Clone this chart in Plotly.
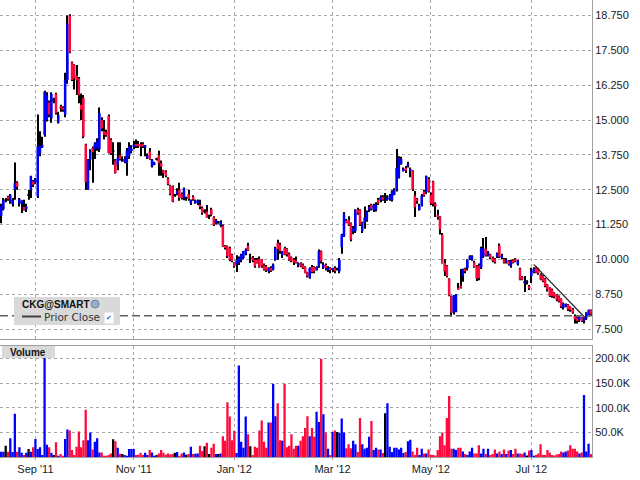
import pandas as pd
import plotly.graph_objects as go

# Daily bars for CKG@SMART (one value per trading day)
opens = [
    11.55, 11.8, 12.12, 12.25, 12.08, 11.98, 12.5, 12.76, 12.0, 12.0,
    11.88, 11.8, 12.3, 12.5, 12.8, 12.76, 12.26, 13.8, 14.02, 14.47,
    15.0, 15.63, 15.07, 15.72, 15.94, 14.9, 15.5, 15.45, 15.19, 16.44,
    18.75, 17.07, 16.98, 16.6, 16.5, 15.55, 15.8, 14.12, 12.5, 13.58,
    14.0, 13.95, 14.0, 13.95, 15.0, 14.6, 14.55, 15.15, 14.3, 13.9,
    13.55, 13.4, 13.74, 13.58, 13.5, 13.45, 13.7, 13.92, 14.05, 14.14,
    14.15, 14.12, 14.15, 14.02, 13.66, 13.87, 13.34, 13.42, 13.6, 13.73,
    13.45, 13.2, 13.15, 12.9, 12.65, 12.62, 12.3, 12.38, 12.5, 12.35,
    12.2, 12.2, 12.35, 12.0, 12.25, 12.05, 12.02, 11.96, 11.85, 11.75,
    11.72, 11.55, 11.8, 11.52, 11.3, 11.33, 11.21, 11.21, 10.49, 10.47,
    10.41, 10.17, 9.87, 9.81, 9.87, 9.97, 10.05, 10.2, 10.49, 10.05,
    10.08, 9.99, 9.99, 10.02, 9.99, 9.78, 9.75, 9.57, 9.69, 9.63,
    9.99, 10.59, 10.53, 10.15, 10.41, 10.37, 10.2, 10.08, 9.99, 9.96,
    9.78, 9.87, 9.81, 9.73, 9.54, 9.33, 9.73, 9.73, 9.63, 9.75,
    10.29, 9.7, 9.81, 9.63, 9.69, 9.63, 9.69, 9.65, 9.57, 10.44,
    10.83, 11.4, 11.42, 11.3, 11.0, 11.01, 11.78, 11.78, 11.01, 11.3,
    11.4, 11.78, 11.96, 11.76, 11.78, 12.14, 12.12, 12.24, 12.17, 12.14,
    12.17, 12.12, 12.32, 12.48, 12.92, 13.43, 13.2, 13.29, 13.36, 13.19,
    13.19, 12.29, 12.17, 11.78, 11.93, 12.44, 12.4, 12.88, 12.32, 12.8,
    12.0, 11.6, 11.52, 10.89, 9.87, 9.78, 9.3, 8.68, 8.08, 8.14,
    8.98, 9.06, 9.39, 9.66, 9.69, 10.02, 9.99, 9.9, 9.75, 9.78,
    9.7, 10.09, 10.38, 10.14, 10.18, 10.06, 10.02, 10.09, 10.5, 10.06,
    10.0, 9.9, 9.94, 9.76, 9.97, 10.02, 9.82, 9.66, 9.37, 9.14,
    9.18, 9.04, 9.4, 9.54, 9.73, 9.66, 9.46, 9.42, 9.3, 9.1,
    8.98, 8.92, 8.8, 8.74, 8.68, 8.59, 8.26, 8.3, 8.38, 8.3,
    8.23, 7.97, 7.9, 7.82, 7.9, 7.79, 7.87, 7.97, 8.18,
]
highs = [
    12.0, 12.2, 12.2, 12.28, 12.35, 12.2, 13.48, 12.8, 12.2, 12.12,
    12.14, 12.0, 12.5, 13.0, 12.85, 12.92, 15.2, 14.6, 14.4, 16.05,
    16.0, 15.7, 16.0, 15.8, 15.98, 15.3, 15.55, 15.5, 16.7, 18.75,
    18.8, 17.1, 17.0, 16.98, 16.55, 15.95, 15.9, 14.15, 13.6, 13.95,
    14.05, 14.2, 14.35, 15.45, 15.1, 15.0, 14.65, 15.2, 14.35, 14.2,
    13.6, 14.2, 14.2, 13.7, 13.7, 14.0, 14.2, 14.1, 14.25, 14.3,
    14.25, 14.2, 14.2, 14.1, 13.8, 14.0, 13.6, 13.5, 13.65, 13.9,
    13.55, 13.22, 13.2, 12.95, 12.68, 12.65, 12.35, 12.55, 12.75, 12.4,
    12.58, 12.25, 12.5, 12.15, 12.3, 12.15, 12.15, 12.14, 11.9, 11.8,
    11.95, 11.6, 11.85, 11.55, 11.45, 11.38, 11.4, 11.25, 10.52, 10.5,
    10.45, 10.2, 9.9, 10.15, 10.1, 10.2, 10.3, 10.4, 10.6, 10.2,
    10.12, 10.05, 10.05, 10.1, 10.0, 9.85, 9.8, 9.72, 9.75, 9.85,
    10.45, 10.7, 10.6, 10.3, 10.45, 10.4, 10.25, 10.1, 10.05, 10.1,
    9.9, 9.9, 9.85, 9.75, 9.56, 9.72, 9.8, 9.75, 9.75, 10.35,
    10.32, 9.9, 9.85, 9.75, 9.72, 9.7, 9.75, 9.7, 10.05, 10.92,
    11.7, 11.45, 11.55, 11.32, 11.2, 11.8, 11.85, 11.8, 11.35, 11.9,
    11.75, 11.95, 12.0, 12.0, 12.05, 12.2, 12.3, 12.3, 12.38, 12.3,
    12.35, 12.48, 12.55, 13.96, 13.7, 13.68, 13.3, 13.35, 13.5, 13.3,
    13.2, 12.45, 12.2, 12.0, 12.35, 12.5, 13.0, 12.95, 12.4, 12.82,
    12.05, 11.78, 11.55, 10.95, 10.0, 9.8, 9.32, 8.7, 8.72, 8.76,
    9.15, 9.65, 9.66, 9.7, 10.0, 10.15, 10.15, 9.95, 9.8, 9.85,
    10.45, 10.77, 10.8, 10.3, 10.2, 10.1, 10.05, 10.25, 10.57, 10.2,
    10.05, 10.05, 9.98, 9.98, 10.0, 10.05, 9.98, 9.7, 9.4, 9.4,
    9.25, 9.08, 9.7, 9.72, 9.76, 9.7, 9.5, 9.45, 9.33, 9.12,
    9.0, 8.95, 8.82, 8.76, 8.7, 8.6, 8.45, 8.42, 8.4, 8.32,
    8.25, 8.02, 7.95, 7.96, 7.92, 7.92, 8.1, 8.2, 8.2,
]
lows = [
    11.3, 11.75, 12.05, 12.1, 12.0, 11.9, 12.14, 12.5, 11.9, 11.66,
    11.75, 11.7, 12.14, 12.2, 12.6, 12.7, 12.2, 13.7, 14.0, 14.4,
    14.95, 15.1, 14.9, 15.6, 15.2, 14.88, 15.3, 15.3, 15.1, 16.3,
    17.4, 16.4, 16.1, 15.9, 15.6, 15.0, 14.35, 12.5, 12.5, 13.2,
    12.75, 13.6, 13.9, 13.85, 14.6, 14.3, 14.4, 13.8, 13.75, 13.4,
    13.08, 13.2, 13.55, 13.5, 13.45, 13.0, 13.6, 13.8, 13.95, 14.0,
    14.0, 13.7, 14.0, 13.7, 13.6, 13.58, 13.3, 13.38, 13.55, 13.0,
    13.0, 12.92, 12.95, 12.66, 12.3, 12.05, 12.25, 12.3, 12.1, 12.15,
    12.12, 12.1, 12.1, 11.95, 12.1, 12.0, 11.95, 11.8, 11.6, 11.65,
    11.5, 11.45, 11.55, 11.2, 11.25, 11.28, 11.15, 10.45, 10.35, 10.05,
    9.93, 9.9, 9.7, 9.55, 9.8, 9.9, 10.0, 10.15, 10.3, 9.87,
    9.9, 9.7, 9.85, 9.7, 9.7, 9.6, 9.55, 9.5, 9.55, 9.6,
    9.95, 9.99, 10.2, 10.05, 10.15, 10.1, 9.95, 9.9, 9.8, 9.85,
    9.72, 9.72, 9.65, 9.5, 9.35, 9.3, 9.5, 9.5, 9.6, 9.7,
    9.85, 9.65, 9.6, 9.55, 9.5, 9.55, 9.5, 9.6, 9.5, 10.2,
    10.8, 11.3, 11.2, 10.65, 10.9, 10.95, 11.6, 11.2, 10.95, 11.1,
    11.35, 11.7, 11.75, 11.7, 11.72, 11.95, 12.05, 12.1, 12.02, 12.1,
    12.1, 12.08, 12.3, 12.44, 12.9, 13.4, 13.15, 13.1, 13.3, 12.95,
    12.45, 11.52, 12.0, 11.75, 11.9, 12.25, 12.35, 12.4, 11.95, 11.9,
    11.52, 11.42, 10.89, 9.85, 9.4, 9.35, 8.68, 7.95, 8.02, 8.1,
    8.9, 8.95, 9.2, 9.5, 9.6, 9.98, 9.95, 9.7, 9.22, 9.25,
    9.65, 10.05, 10.1, 10.1, 10.0, 9.9, 9.85, 10.05, 10.05, 10.0,
    9.85, 9.85, 9.78, 9.7, 9.85, 9.9, 9.78, 9.25, 9.25, 8.83,
    9.1, 8.9, 9.15, 9.5, 9.5, 9.45, 9.25, 9.18, 9.0, 8.85,
    8.65, 8.62, 8.6, 8.5, 8.45, 8.25, 8.2, 8.28, 8.15, 8.12,
    8.05, 7.7, 7.7, 7.75, 7.75, 7.7, 7.82, 7.95, 8.0,
]
closes = [
    11.9, 12.14, 12.12, 12.16, 12.32, 12.12, 12.74, 12.6, 12.17, 12.1,
    11.78, 11.9, 12.3, 12.98, 12.68, 12.88, 14.05, 14.08, 14.1, 16.02,
    15.9, 15.2, 15.94, 15.72, 15.25, 15.17, 15.42, 15.38, 16.44, 18.47,
    17.43, 16.44, 16.5, 16.44, 15.9, 15.37, 14.4, 12.77, 13.58, 13.88,
    13.85, 14.17, 14.25, 15.25, 14.7, 14.47, 14.45, 13.82, 13.8, 13.9,
    13.1, 13.65, 13.6, 13.58, 13.6, 13.9, 14.05, 13.98, 14.12, 14.08,
    14.1, 14.04, 14.05, 14.1, 13.72, 13.6, 13.58, 13.48, 13.6, 13.45,
    13.33, 13.1, 13.0, 12.7, 12.35, 12.07, 12.3, 12.45, 12.2, 12.2,
    12.55, 12.2, 12.17, 12.12, 12.15, 12.12, 12.1, 11.9, 11.67, 11.75,
    11.5, 11.55, 11.6, 11.24, 11.4, 11.33, 11.35, 10.47, 10.41, 10.11,
    9.99, 9.93, 9.75, 9.97, 10.05, 10.17, 10.29, 10.35, 10.32, 10.05,
    9.96, 9.75, 9.87, 9.73, 9.75, 9.63, 9.6, 9.69, 9.57, 9.81,
    10.41, 10.37, 10.29, 10.29, 10.17, 10.17, 9.99, 9.93, 9.9, 9.9,
    9.87, 9.75, 9.69, 9.51, 9.39, 9.69, 9.54, 9.57, 9.73, 10.29,
    9.93, 9.81, 9.69, 9.69, 9.63, 9.67, 9.57, 9.65, 9.99, 10.89,
    11.64, 11.33, 11.24, 10.71, 11.1, 11.78, 11.66, 11.24, 11.3, 11.5,
    11.72, 11.88, 11.81, 11.96, 11.95, 12.0, 12.24, 12.14, 12.17, 12.19,
    12.29, 12.44, 12.48, 13.28, 13.64, 13.6, 13.24, 13.19, 13.43, 13.24,
    12.5, 11.88, 12.12, 11.93, 12.29, 12.29, 13.0, 12.44, 12.0, 12.0,
    11.9, 11.52, 11.07, 9.87, 9.57, 9.39, 8.7, 8.08, 8.7, 8.74,
    8.92, 8.98, 9.66, 9.57, 9.99, 10.11, 10.11, 9.73, 9.3, 9.33,
    10.41, 10.38, 10.14, 10.24, 10.06, 9.94, 9.9, 10.21, 10.09, 10.14,
    9.88, 9.99, 9.82, 9.94, 9.88, 9.94, 9.94, 9.28, 9.28, 9.22,
    9.18, 8.95, 9.58, 9.66, 9.52, 9.5, 9.28, 9.22, 9.04, 8.92,
    8.68, 8.68, 8.66, 8.56, 8.5, 8.3, 8.42, 8.38, 8.2, 8.18,
    8.08, 7.85, 7.79, 7.94, 7.79, 7.9, 8.08, 8.18, 8.03,
]
# volume in thousands of shares
volumes_k = [
    10.7, 10.7, 22.7, 10.7, 38, 10, 88, 10.7, 20, 8.7,
    4, 8.7, 16, 10.7, 20, 36.7, 16, 20, 4, 220,
    24.7, 20, 8.7, 4, 30, 1.3, 6, 1.3, 36.7, 56,
    54, 14, 4, 20.7, 52, 20, 34, 96, 34, 50,
    15.3, 31, 38, 9, 9.3, 1.3, 1.3, 4, 7, 36,
    32, 18.7, 6.7, 6, 4, 2, 16, 16, 16, 4,
    4.7, 8.7, 4, 8.7, 4, 14, 9.3, 2.7, 4, 7.3,
    14, 8.7, 4.7, 7.3, 5.3, 6, 8.7, 10, 2.7, 7.3,
    9.3, 4.7, 6, 20.7, 6, 6.7, 7.3, 22.7, 12, 22,
    28.7, 6, 19, 27, 6, 6, 7, 42, 33, 111,
    82, 34, 53, 8, 186, 31, 19, 82, 46, 22,
    4, 21, 19, 54, 74, 31, 19, 70, 70, 149,
    83, 109, 34, 33, 149, 20, 23, 46, 17, 23,
    23, 33, 42, 59, 83, 42, 59, 41, 92, 71,
    199, 87, 50, 17, 4, 51, 54, 51, 49, 78,
    50, 18, 26, 18, 33, 26, 10, 79, 26, 17,
    19, 41, 73, 14, 19, 15, 15, 8, 89, 109,
    21, 10, 19, 19, 15, 19, 8, 10, 32, 35,
    11, 4, 19, 4, 17, 7, 7, 15, 4, 4,
    3, 14, 42, 50, 24, 79, 124, 17, 17, 14,
    19, 19, 11, 6, 4, 11, 19, 7, 7, 24,
    7, 17, 6, 17, 4, 6, 15, 7, 11, 6,
    15, 6, 13, 14, 6, 17, 7, 7, 6, 9,
    3, 13, 14, 2, 4, 7, 26, 4, 4, 14,
    9, 4, 3, 5, 6, 11, 9, 11, 13, 24,
    17, 17, 11, 7, 9, 126, 11, 27, 6,
]

prior_close = 7.98
# user-drawn trend line (trading day index, price)
trend_days = [233, 256]
trend_prices = [9.82, 7.86]

price_ticks = [7.5, 8.75, 10.0, 11.25, 12.5, 13.75, 15.0, 16.25, 17.5, 18.75]
volume_ticks = [50, 100, 150, 200]
volume_labels = ["50.0K", "100.0K", "150.0K", "200.0K"]

dates = pd.bdate_range("2011-08-11", periods=len(closes))
days = list(range(len(closes)))

# gridlines / labels on the first trading day of every second month
month_pos = [i for i in days[1:] if dates[i].month != dates[i - 1].month and dates[i].month % 2 == 1]
month_labels = [dates[i].strftime("%b '%y") for i in month_pos]

BLUE, RED, BLACK = "#0000ff", "#ff0a3c", "#000000"
colors = [BLUE if c > o else RED if c < o else BLACK for o, c in zip(opens, closes)]

body_base = [min(o, c) - (0.02 if o == c else 0) for o, c in zip(opens, closes)]
body_len = [max(abs(c - o), 0.04) for o, c in zip(opens, closes)]

fig = go.Figure()

# wicks (black), then coloured bodies on top
fig.add_trace(go.Bar(x=days, y=[h - l for h, l in zip(highs, lows)], base=lows, width=0.42,
                     marker=dict(color=BLACK, line_width=0), xaxis="x2", yaxis="y2"))
fig.add_trace(go.Bar(x=days, y=body_len, base=body_base, width=1.1,
                     marker=dict(color=colors, line_width=0), xaxis="x2", yaxis="y2"))
fig.add_trace(go.Scatter(x=trend_days, y=trend_prices, mode="lines",
                         line=dict(color="#202020", width=1.2), xaxis="x2", yaxis="y2"))

# volume
fig.add_trace(go.Bar(x=days, y=volumes_k, width=1.0,
                     marker=dict(color=colors, line_width=0), xaxis="x", yaxis="y"))

GRID = "#a8a8a8"
LINE = "#a0a0a0"
axis_common = dict(showgrid=True, gridcolor=GRID, griddash="3px,3px", gridwidth=1,
                   zeroline=False, showline=True, linecolor=LINE, linewidth=1, automargin=False)

fig.update_layout(
    width=640, height=480,
    margin=dict(l=0, r=48, t=0, b=23),
    paper_bgcolor="white", plot_bgcolor="white",
    barmode="overlay", showlegend=False,
    font=dict(family="Liberation Sans, Arial, sans-serif", size=11, color="#1a1a1a"),
    xaxis=dict(axis_common, domain=[0, 1], anchor="y", range=[-0.5, len(days) - 0.5],
               tickmode="array", tickvals=month_pos, ticktext=month_labels,
               ticks="outside", ticklen=2, tickcolor=LINE, mirror=True),
    xaxis2=dict(axis_common, domain=[0, 1], anchor="y2", matches="x",
                tickmode="array", tickvals=month_pos, showticklabels=False, ticks=""),
    yaxis=dict(axis_common, domain=[0, 0.2435], range=[0, 226], side="right",
               tickmode="array", tickvals=volume_ticks, ticktext=volume_labels,
               ticks="", mirror=True),
    yaxis2=dict(axis_common, domain=[0.2575, 1], range=[7.13, 19.31], side="right",
                tickmode="array", tickvals=price_ticks,
                ticktext=[f"{v:.3f}" for v in price_ticks],
                ticks="", mirror=True),
)

# prior close dashed line
fig.add_shape(type="line", xref="x2 domain", yref="y2", x0=0, x1=1, y0=prior_close, y1=prior_close,
              line=dict(color="#606060", width=1.5, dash="8px,4px"))

# plot-area pixel -> paper coordinates for the two legend boxes
W, H = 592, 457
def px(v):
    return v / W
def py(v):
    return 1 - v / H

fig.add_shape(type="rect", xref="paper", yref="paper", x0=px(14), x1=px(120), y0=py(325), y1=py(297),
              fillcolor="#d9d9d9", line_width=0)
fig.add_shape(type="line", xref="paper", yref="paper", x0=px(22), x1=px(41), y0=py(316.5), y1=py(316.5),
              line=dict(color="#404040", width=2))
fig.add_shape(type="circle", xref="paper", yref="paper", x0=px(91), x1=px(99), y0=py(308), y1=py(300),
              fillcolor="#9aaec8", line=dict(color="#6d84a6", width=1))
fig.add_shape(type="rect", xref="paper", yref="paper", x0=px(2), x1=px(55), y0=py(358), y1=py(346),
              fillcolor="#d9d9d9", line_width=0)

bold_font = dict(family="Liberation Sans, Arial, sans-serif", size=10, color="#111111")
fig.add_annotation(xref="paper", yref="paper", x=px(20), y=py(304), text="<b>CKG@SMART</b>",
                   showarrow=False, xanchor="left", yanchor="middle", font=bold_font)
fig.add_annotation(xref="paper", yref="paper", x=px(42), y=py(317), text="Prior Close",
                   showarrow=False, xanchor="left", yanchor="middle",
                   font=dict(family="DejaVu Sans, sans-serif", size=10.5, color="#333333"))
fig.add_annotation(xref="paper", yref="paper", x=px(109), y=py(318), text="✔",
                   showarrow=False, xanchor="center", yanchor="middle", bgcolor="white",
                   font=dict(family="DejaVu Sans, sans-serif", size=7, color="#2a6ad0"))
fig.add_annotation(xref="paper", yref="paper", x=px(8), y=py(352), text="<b>Volume</b>",
                   showarrow=False, xanchor="left", yanchor="middle", font=bold_font)

# drop the browser's default page margin so the 640x480 figure fills the window
fig.write_html("out.html", config={"displayModeBar": False},
               post_script="document.body.style.margin = '0';")
